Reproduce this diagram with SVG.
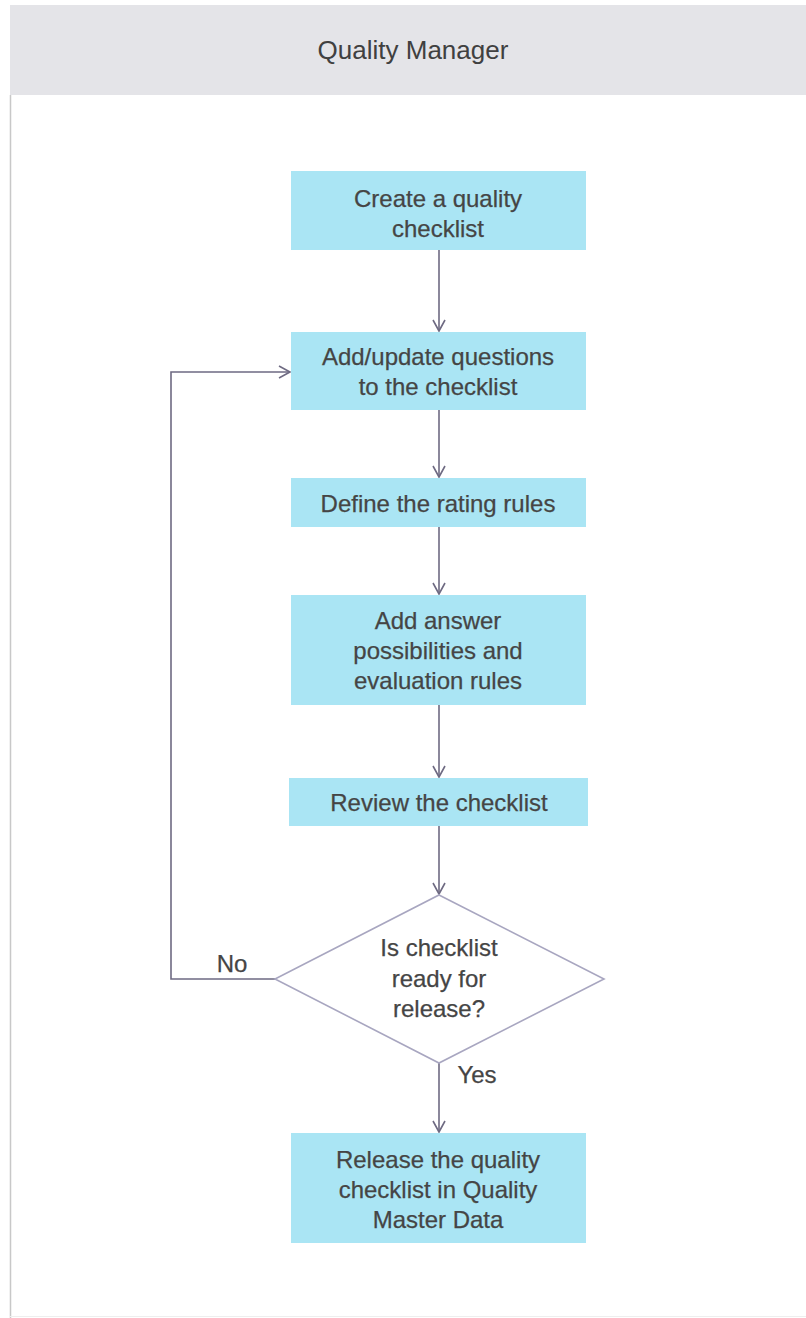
<svg xmlns="http://www.w3.org/2000/svg" width="806" height="1318" viewBox="0 0 806 1318">
<defs>
<marker id="arr" markerWidth="14" markerHeight="14" refX="12" refY="7" orient="auto" markerUnits="userSpaceOnUse">
<path d="M1,1 L12,7 L1,13" fill="none" stroke="#6e6a82" stroke-width="1.6"/>
</marker>
<style>
.box{fill:#aae5f4;}
.t{font-family:"Liberation Sans",Arial,sans-serif;font-size:24px;fill:#454545;text-anchor:middle;stroke:#454545;stroke-width:0.25;}
.c{fill:none;stroke:#6e6a82;stroke-width:1.6;}
</style>
</defs>
<rect x="0" y="0" width="806" height="1318" fill="#ffffff"/>
<g id="lane">
<rect x="10" y="5" width="796" height="90" fill="#e4e4e8"/>
<line x1="10.5" y1="95" x2="10.5" y2="1318" stroke="#c8c8c8" stroke-width="1.5"/>
<line x1="10" y1="1316.5" x2="806" y2="1316.5" stroke="#eeeeee" stroke-width="1"/>
<text x="413" y="59" class="t" style="font-size:26px;fill:#404040;stroke:none">Quality Manager</text>
</g>
<g id="connectors">
<line class="c" x1="439" y1="250" x2="439" y2="331" marker-end="url(#arr)"/>
<line class="c" x1="439" y1="410" x2="439" y2="477" marker-end="url(#arr)"/>
<line class="c" x1="439" y1="527" x2="439" y2="594" marker-end="url(#arr)"/>
<line class="c" x1="439" y1="705" x2="439" y2="777" marker-end="url(#arr)"/>
<line class="c" x1="439" y1="826" x2="439" y2="894" marker-end="url(#arr)"/>
<polyline class="c" points="275,979 171,979 171,372 290,372" marker-end="url(#arr)"/>
<line class="c" x1="439" y1="1063" x2="439" y2="1132" marker-end="url(#arr)"/>
<text x="232" y="972" class="t">No</text>
<text x="477" y="1083" class="t">Yes</text>
</g>
<g id="n1">
<rect class="box" x="291" y="171" width="295" height="79"/>
<text class="t" x="438" y="207">Create a quality</text>
<text class="t" x="438" y="237">checklist</text>
</g>
<g id="n2">
<rect class="box" x="291" y="332" width="295" height="78"/>
<text class="t" x="438" y="365">Add/update questions</text>
<text class="t" x="438" y="395">to the checklist</text>
</g>
<g id="n3">
<rect class="box" x="291" y="478" width="295" height="49"/>
<text class="t" x="438" y="512">Define the rating rules</text>
</g>
<g id="n4">
<rect class="box" x="291" y="595" width="295" height="110"/>
<text class="t" x="438" y="629">Add answer</text>
<text class="t" x="438" y="659">possibilities and</text>
<text class="t" x="438" y="689">evaluation rules</text>
</g>
<g id="n5">
<rect class="box" x="289" y="778" width="299" height="48"/>
<text class="t" x="439" y="811">Review the checklist</text>
</g>
<g id="d1">
<polygon points="439,895 604,979 439,1063 275,979" fill="#ffffff" stroke="#a8a6c0" stroke-width="1.6"/>
<text class="t" x="439" y="956">Is checklist</text>
<text class="t" x="439" y="987">ready for</text>
<text class="t" x="439" y="1017">release?</text>
</g>
<g id="n6">
<rect class="box" x="291" y="1133" width="295" height="110"/>
<text class="t" x="438" y="1168">Release the quality</text>
<text class="t" x="438" y="1198">checklist in Quality</text>
<text class="t" x="438" y="1228">Master Data</text>
</g>
</svg>
